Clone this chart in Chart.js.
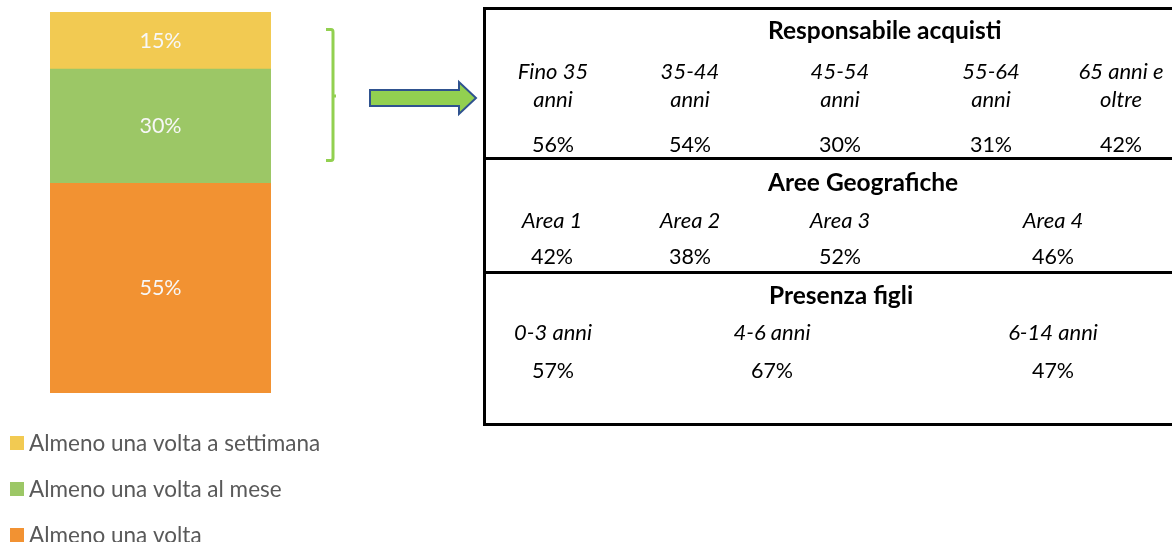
<!DOCTYPE html>
<html>
<head>
<meta charset="utf-8">
<script src="https://cdn.jsdelivr.net/npm/chart.js@4/dist/chart.umd.min.js"></script>
<style>
  html, body { margin: 0; padding: 0; background: #ffffff; }
  #wrap { width: 1172px; height: 542px; }
</style>
</head>
<body>
<div id="wrap"><canvas id="c" width="1172" height="542"></canvas></div>
<script>
// Frequenza di acquisto (quota % sul totale)
const frequencyLabels = ['Almeno una volta', 'Almeno una volta al mese', 'Almeno una volta a settimana'];
const frequencyValues = [55, 30, 15];
const frequencyColors = ['#F29232', '#9CC766', '#F2CA52'];

// Responsabile acquisti per fascia d'età
const ageLabels = [['Fino 35', 'anni'], ['35-44', 'anni'], ['45-54', 'anni'], ['55-64', 'anni'], ['65 anni e', 'oltre']];
const ageValues = [56, 54, 30, 31, 42];

// Aree geografiche
const areaLabels = ['Area 1', 'Area 2', 'Area 3', 'Area 4'];
const areaValues = [42, 38, 52, 46];

// Presenza figli
const childLabels = ['0-3 anni', '4-6 anni', '6-14 anni'];
const childValues = [57, 67, 47];

const FONT = 'Lato, "Open Sans", sans-serif';

// Percentuali scritte al centro di ogni segmento della barra
const segmentLabels = {
  id: 'segmentLabels',
  afterDatasetsDraw(chart) {
    const ctx = chart.ctx;
    ctx.save();
    ctx.fillStyle = '#f7f7f7';
    ctx.font = '21.5px ' + FONT;
    ctx.textAlign = 'center';
    ctx.textBaseline = 'middle';
    chart.data.datasets.forEach((ds, i) => {
      chart.getDatasetMeta(i).data.forEach((bar, j) => {
        const p = bar.getProps(['x', 'y', 'base'], true);
        ctx.fillText(ds.data[j] + '%', p.x, (p.y + p.base) / 2);
      });
    });
    ctx.restore();
  }
};

// Legenda verticale sotto la barra, dalla voce più alta alla più bassa
const stackedLegend = {
  id: 'stackedLegend',
  afterDraw(chart) {
    const ctx = chart.ctx;
    ctx.save();
    ctx.font = '22.5px ' + FONT;
    ctx.textBaseline = 'middle';
    ctx.textAlign = 'left';
    const items = chart.data.datasets.slice().reverse();
    items.forEach((ds, k) => {
      const y = 443 + k * 46;
      ctx.fillStyle = ds.backgroundColor;
      ctx.fillRect(10, y - 7, 14, 14);
      ctx.fillStyle = '#595959';
      ctx.fillText(ds.label, 29, y + 1);
    });
    ctx.restore();
  }
};

// Parentesi, freccia e tabella dei profili
const profilePanel = {
  id: 'profilePanel',
  afterDraw(chart) {
    const ctx = chart.ctx;
    ctx.save();

    // parentesi graffa verde
    ctx.strokeStyle = '#92D050';
    ctx.lineWidth = 3;
    ctx.lineCap = 'butt';
    ctx.beginPath();
    ctx.moveTo(326, 29.5);
    ctx.lineTo(331, 29.5);
    ctx.quadraticCurveTo(333, 29.5, 333, 32);
    ctx.lineTo(333, 158);
    ctx.quadraticCurveTo(333, 160.5, 331, 160.5);
    ctx.lineTo(326, 160.5);
    ctx.moveTo(333, 96);
    ctx.lineTo(336, 96);
    ctx.stroke();

    // freccia
    ctx.beginPath();
    ctx.moveTo(370, 90);
    ctx.lineTo(459, 90);
    ctx.lineTo(459, 82);
    ctx.lineTo(476, 98);
    ctx.lineTo(459, 114);
    ctx.lineTo(459, 106);
    ctx.lineTo(370, 106);
    ctx.closePath();
    ctx.fillStyle = '#92D050';
    ctx.fill();
    ctx.strokeStyle = '#2F528F';
    ctx.lineWidth = 2;
    ctx.lineJoin = 'miter';
    ctx.stroke();

    // riquadro della tabella
    ctx.strokeStyle = '#000000';
    ctx.lineWidth = 3;
    ctx.beginPath();
    ctx.moveTo(1180, 8.5);
    ctx.lineTo(484.5, 8.5);
    ctx.lineTo(484.5, 424.5);
    ctx.lineTo(1180, 424.5);
    ctx.moveTo(484.5, 158.5);
    ctx.lineTo(1180, 158.5);
    ctx.moveTo(484.5, 272.5);
    ctx.lineTo(1180, 272.5);
    ctx.stroke();

    ctx.fillStyle = '#000000';
    ctx.textBaseline = 'middle';

    // titoli di sezione
    ctx.textAlign = 'left';
    ctx.font = 'bold 24.5px ' + FONT;
    ctx.fillText('Responsabile acquisti', 768, 31);
    ctx.fillText('Aree Geografiche', 768, 183);
    ctx.fillText('Presenza figli', 769, 296);

    const labelFont = 'italic 22px ' + FONT;
    const valueFont = '21.5px ' + FONT;

    ctx.textAlign = 'center';
    const ageX = [553, 690, 840, 991, 1121];
    ageLabels.forEach((lines, i) => {
      ctx.font = labelFont;
      ctx.fillText(lines[0], ageX[i], 72);
      ctx.fillText(lines[1], ageX[i], 100);
      ctx.font = valueFont;
      ctx.fillText(ageValues[i] + '%', ageX[i], 145);
    });

    const areaX = [552, 690, 840, 1053];
    areaLabels.forEach((label, i) => {
      ctx.font = labelFont;
      ctx.fillText(label, areaX[i], 221);
      ctx.font = valueFont;
      ctx.fillText(areaValues[i] + '%', areaX[i], 257);
    });

    const childX = [553, 772, 1053];
    childLabels.forEach((label, i) => {
      ctx.font = labelFont;
      ctx.fillText(label, childX[i], 333);
      ctx.font = valueFont;
      ctx.fillText(childValues[i] + '%', childX[i], 371);
    });

    ctx.restore();
  }
};

new Chart(document.getElementById('c'), {
  type: 'bar',
  data: {
    labels: ['Frequenza'],
    datasets: frequencyLabels.map((label, i) => ({
      label: label,
      data: [frequencyValues[i]],
      backgroundColor: frequencyColors[i],
      borderWidth: 0,
      barPercentage: 1,
      categoryPercentage: 1
    }))
  },
  options: {
    responsive: false,
    animation: false,
    layout: { padding: { left: 50, right: 901, top: 12, bottom: 149 } },
    scales: {
      x: { stacked: true, display: false },
      y: { stacked: true, display: false, min: 0, max: 100 }
    },
    plugins: {
      legend: { display: false },
      tooltip: { enabled: false }
    }
  },
  plugins: [segmentLabels, stackedLegend, profilePanel]
});
</script>
</body>
</html>
